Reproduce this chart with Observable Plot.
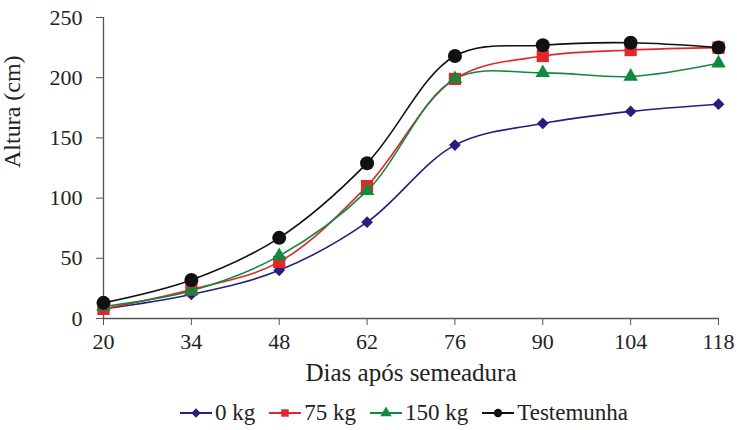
<!DOCTYPE html>
<html>
<head>
<meta charset="utf-8">
<script src="https://cdn.jsdelivr.net/npm/d3@7"></script>
<script src="https://cdn.jsdelivr.net/npm/@observablehq/plot@0.6"></script>
<style>
  .serif, .serif * { font-family: 'Liberation Serif' !important; }
  #legend { display: block; height: 34px; padding-left: 180px; font-size: 23px; color: #222; white-space: nowrap; line-height: 34px; }
  #legend .item { display: inline-block; margin-right: 14px; }
  #legend svg { margin-right: 3px; vertical-align: -1px; }
</style>
</head>
<body style="margin:0;background:#fff">
<div id="chart" class="serif"></div>
<div id="legend" class="serif"></div>
<script>
// Data
const days = [20, 34, 48, 62, 76, 90, 104, 118];
const kg0 = [8, 20, 40, 80, 144, 162, 172, 178];
const kg75 = [8, 24, 47, 110, 199, 218, 223, 225];
const kg150 = [10, 23, 52, 106, 199, 204, 201, 212];
const testemunha = [13, 32, 67, 129, 218, 227, 229, 225];
const seriesNames = ["0 kg", "75 kg", "150 kg", "Testemunha"];
const yTicks = [0, 50, 100, 150, 200, 250];

const seriesValues = [kg0, kg75, kg150, testemunha];
const styles = [
  {color: "#25207f", symbol: "diamond2", r: 5.3},
  {color: "#e3262b", symbol: "square", r: 6.9},
  {color: "#12893d", symbol: "triangle", r: 5.4},
  {color: "#111111", symbol: "circle", r: 7}
];

const rows = seriesNames.flatMap((name, i) =>
  days.map((d, j) => ({series: name, day: d, value: seriesValues[i][j]}))
);

function render() {
  const marks = [
    Plot.ruleX([20], {stroke: "#555", strokeWidth: 1.3}),
    Plot.ruleY([0], {stroke: "#555", strokeWidth: 1.3}),
    Plot.axisX({ticks: days, tickSize: 7, tickPadding: 8, stroke: "#555", fill: "#222", label: null, fontSize: 22, tickFormat: d => String(d)}),
    Plot.axisY({ticks: yTicks, tickSize: 7, tickPadding: 14, stroke: "#555", fill: "#222", label: null, fontSize: 22}),
    Plot.text(["Dias após semeadura"], {frameAnchor: "bottom", dy: 62, fontSize: 25, fill: "#222"}),
    Plot.text(["Altura (cm)"], {frameAnchor: "left", rotate: -90, dx: -91, fontSize: 24, fill: "#222"})
  ];
  seriesNames.forEach((name, i) => {
    const data = rows.filter(r => r.series === name);
    const s = styles[i];
    marks.push(Plot.line(data, {x: "day", y: "value", curve: "catmull-rom", stroke: s.color, strokeWidth: 1.6}));
    marks.push(Plot.dot(data, {x: "day", y: "value", symbol: () => s.symbol, r: s.r, fill: s.color, stroke: "none"}));
  });

  const chart = Plot.plot({
    width: 737,
    height: 396,
    marginLeft: 103,
    marginRight: 19,
    marginTop: 17,
    marginBottom: 78,
    style: {fontFamily: "Liberation Serif", fontSize: "22px", background: "#fff", overflow: "visible"},
    x: {domain: [20, 118]},
    y: {domain: [0, 250]},
    symbol: {type: "identity"},
    marks
  });
  const holder = document.getElementById("chart");
  holder.innerHTML = "";
  holder.appendChild(chart);
  chart.querySelectorAll("text").forEach(t => t.style.setProperty("font-family", "Liberation Serif", "important"));

  const legend = document.getElementById("legend");
  legend.innerHTML = "";
  const typeMap = {diamond2: d3.symbolDiamond2, square: d3.symbolSquare, triangle: d3.symbolTriangle, circle: d3.symbolCircle};
  seriesNames.forEach((name, i) => {
    const s = styles[i];
    const item = document.createElement("span");
    item.className = "item";
    const sw = d3.create("svg").attr("width", 32).attr("height", 16);
    sw.append("line").attr("x1", 0).attr("x2", 32).attr("y1", 8).attr("y2", 8).attr("stroke", s.color).attr("stroke-width", 2);
    sw.append("path").attr("transform", "translate(16,8)")
      .attr("d", d3.symbol(typeMap[s.symbol], Math.PI * 4.2 * 4.2)()).attr("fill", s.color);
    item.appendChild(sw.node());
    const t = document.createElement("span");
    t.style.setProperty("font-family", "Liberation Serif", "important");
    t.textContent = name;
    item.appendChild(t);
    legend.appendChild(item);
  });
}
render();
if (document.fonts && document.fonts.load) {
  document.fonts.load("22px 'Liberation Serif'", "Dias após 0123").then(render).catch(() => {});
}
</script>
</body>
</html>
